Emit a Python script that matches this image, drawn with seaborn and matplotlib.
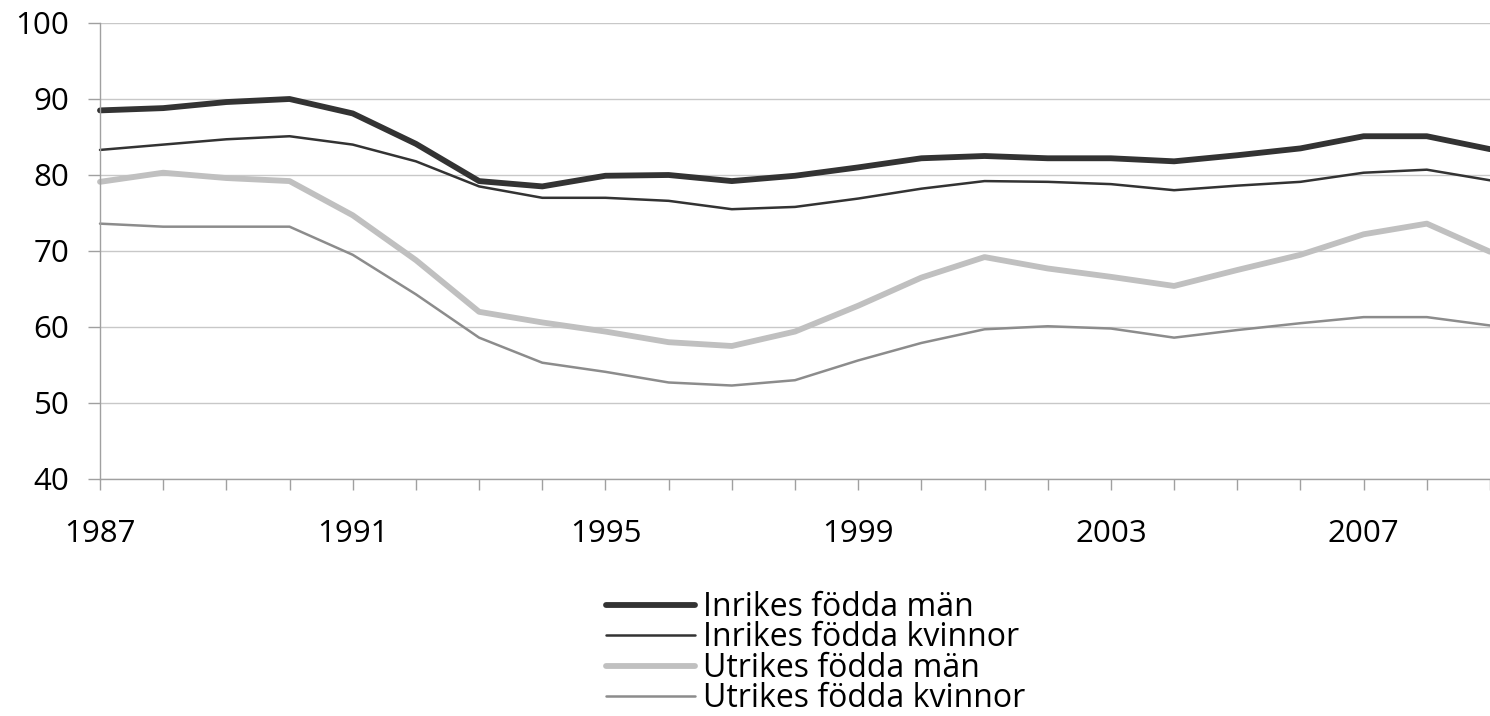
import numpy as np
import pandas as pd
import matplotlib
matplotlib.use("Agg")
import matplotlib.pyplot as plt
import seaborn as sns

# Data
years = list(range(1987, 2010))
inrikes_man = [88.5, 88.8, 89.6, 90.0, 88.1, 84.1, 79.2, 78.5, 79.9, 80.0, 79.2,
               79.9, 81.0, 82.2, 82.5, 82.2, 82.2, 81.8, 82.6, 83.5, 85.1, 85.1, 83.4]
inrikes_kvinnor = [83.3, 84.0, 84.7, 85.1, 84.0, 81.8, 78.5, 77.0, 77.0, 76.6, 75.5,
                   75.8, 76.9, 78.2, 79.2, 79.1, 78.8, 78.0, 78.6, 79.1, 80.3, 80.7, 79.3]
utrikes_man = [79.1, 80.3, 79.6, 79.2, 74.7, 68.8, 62.0, 60.6, 59.4, 58.0, 57.5,
               59.4, 62.8, 66.5, 69.2, 67.7, 66.6, 65.4, 67.5, 69.5, 72.2, 73.6, 69.9]
utrikes_kvinnor = [73.6, 73.2, 73.2, 73.2, 69.5, 64.3, 58.6, 55.3, 54.1, 52.7, 52.3,
                   53.0, 55.6, 57.9, 59.7, 60.1, 59.8, 58.6, 59.6, 60.5, 61.3, 61.3, 60.2]

series_names = ["Inrikes födda män", "Inrikes födda kvinnor",
                "Utrikes födda män", "Utrikes födda kvinnor"]
series_values = [inrikes_man, inrikes_kvinnor, utrikes_man, utrikes_kvinnor]
series_colors = ["#333333", "#333333", "#c0c0c0", "#8c8c8c"]
series_widths = [4.2, 1.8, 4.2, 1.8]

y_ticks = [40, 50, 60, 70, 80, 90, 100]
x_label_years = [1987, 1991, 1995, 1999, 2003, 2007]

sns.set_style("white")
plt.rcParams['font.family'] = ['Open Sans', 'DejaVu Sans']
plt.rcParams['text.color'] = 'black'

fig = plt.figure(figsize=(14.9, 7.16), dpi=100)
ax = fig.add_axes([100 / 1490, 1 - 479 / 716, 1 - 100 / 1490, (479 - 23) / 716])

for name, vals, col, lw in zip(series_names, series_values, series_colors, series_widths):
    df = pd.DataFrame({"År": years, "Värde": vals})
    sns.lineplot(data=df, x="År", y="Värde", ax=ax, color=col, linewidth=lw,
                 label=name, legend=False, clip_on=False)

ax.set_xlim(1987, 2009)
ax.set_ylim(40, 100)
ax.set_yticks(y_ticks)
ax.set_xticks(years)
ax.set_xticklabels([str(y) if y in x_label_years else "" for y in years])
ax.set_xlabel("")
ax.set_ylabel("")

ax.grid(axis='y', color="#c8c8c8", linewidth=1.0)
ax.set_axisbelow(True)
for s in ["top", "right"]:
    ax.spines[s].set_visible(False)
for s in ["left", "bottom"]:
    ax.spines[s].set_color("#a0a0a0")
    ax.spines[s].set_linewidth(1.0)

ax.tick_params(axis='x', direction='out', length=8, width=1, color="#a0a0a0",
               labelsize=22.5, labelcolor="black", pad=21, bottom=True)
ax.tick_params(axis='y', direction='out', length=9, width=1, color="#a0a0a0",
               labelsize=22.5, labelcolor="black", pad=13, left=True)

handles, labels = ax.get_legend_handles_labels()
fig.legend(handles, labels, loc='upper left', bbox_to_anchor=(606 / 1490, 1 - 591 / 716),
           frameon=False, fontsize=23, handlelength=2.8, handletextpad=0.25,
           labelspacing=-0.08, borderpad=0, borderaxespad=0, labelcolor="black")

fig.savefig("out.png", dpi=100)
